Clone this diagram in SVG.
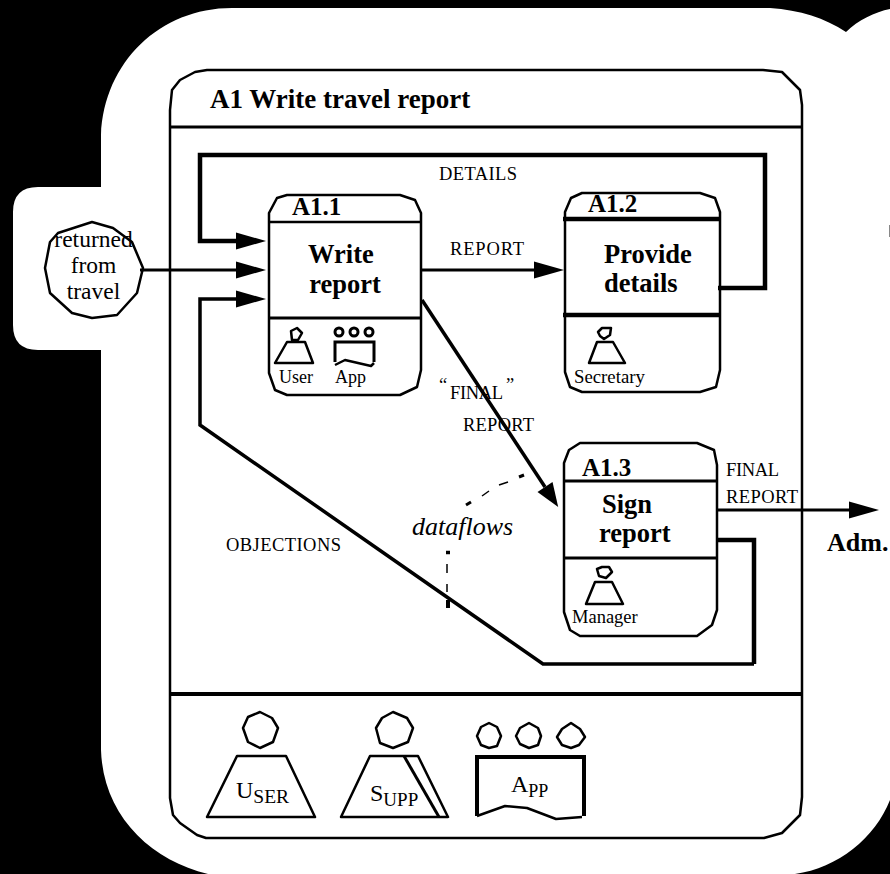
<svg xmlns="http://www.w3.org/2000/svg" width="890" height="874" viewBox="0 0 890 874">
<style>
text{font-family:"Liberation Serif","Times New Roman",serif;fill:#000}
.b{font-weight:bold;font-size:26.5px}
.t{font-size:25px;font-weight:bold}
.l{font-size:18.5px}
.s{font-size:18px}
.r{font-size:23.5px}
.o{fill:none;stroke:#000;stroke-width:2.5;stroke-linejoin:round}
.box{fill:none;stroke:#000;stroke-width:2.5;stroke-linejoin:round}
.c{fill:none;stroke:#000;stroke-linejoin:miter}
.sep{stroke:#000;fill:none}
</style>
<defs>
<marker id="arrow" markerUnits="userSpaceOnUse" viewBox="0 0 30 16" refX="0" refY="8" markerWidth="30" markerHeight="17" orient="auto" preserveAspectRatio="none" overflow="visible"><polygon points="0,0 30,8 0,16" fill="#000"/></marker>
<marker id="arrowShort" markerUnits="userSpaceOnUse" viewBox="0 0 30 16" refX="0" refY="8" markerWidth="24" markerHeight="18" orient="auto" preserveAspectRatio="none" overflow="visible"><polygon points="0,0 30,8 0,16" fill="#000"/></marker>
</defs>
<rect width="890" height="874" fill="#000"/>
<g id="background">
<path fill="#fff" d="M101 135 C104 62 160 8 232 8 L770 8 C800 10 825 18 846 32 C858 20 875 12 890 9 L890 800 C875 838 838 868 795 874 L208 874 C150 860 103 815 101 750 L101 350 L38 350 Q13 350 13 325 L13 212 Q13 187 38 187 L101 187 Z"/>
<path d="M889.5 225V237" stroke="#888" stroke-width="1" fill="none"/>
</g>
<g id="frame">
<polygon class="box" points="170,110 172,90 180,80 195,72 207,70 763,70 782,72 800,90 802,105 802,797 800,815 782,833 764,838 206,838 197,835 180,823 173,815 170,798"/>
<path class="sep" stroke-width="3" d="M170 127H802"/>
<path class="sep" stroke-width="4" d="M170 694H802"/>
<text x="210" y="108" font-size="27" font-weight="bold">A1 Write travel report</text>
</g>
<g id="connectors">
<path class="c" stroke-width="4.5" d="M718 288H765V155H200V241H236" marker-end="url(#arrow)"/>
<path class="c" stroke-width="3" d="M140 270H236" marker-end="url(#arrow)"/>
<path class="c" stroke-width="3" d="M421 270H534" marker-end="url(#arrow)"/>
<path class="c" stroke-width="3.5" d="M422 300L545 487" marker-end="url(#arrowShort)"/>
<path class="c" stroke-width="3" d="M716 510H849" marker-end="url(#arrow)"/>
<path class="c" stroke-width="4.5" d="M718 540H754V664"/>
<path class="c" stroke-width="3.5" d="M754 664H543L200 425V299H236" marker-end="url(#arrow)"/>
<g class="c" stroke-width="1.5">
<path stroke-width="3" d="M524 475L519 477"/><path d="M508 482L499 485"/><path d="M489 491L482 496"/><path stroke-width="3" d="M471 502L466 505"/>
<path stroke-width="3.5" d="M446 552.5H450"/><path d="M447 564V573"/><path d="M447 584V592"/><path stroke-width="4" d="M448 600V608"/>
</g>
<text x="439" y="180" class="l" textLength="78">DETAILS</text>
<text x="450" y="255" class="l" textLength="74">REPORT</text>
<text x="226" y="551" class="l" textLength="115">OBJECTIONS</text>
<text class="l"><tspan x="439" y="391">“</tspan><tspan x="450" y="399" textLength="53">FINAL</tspan><tspan x="506" y="391">”</tspan></text>
<text x="463" y="431" class="l" textLength="71">REPORT</text>
<text x="726" y="476" class="l" textLength="53">FINAL</text>
<text x="726" y="503" class="l" textLength="72">REPORT</text>
<text x="412" y="535" font-size="26" font-style="italic">dataflows</text>
</g>
<g id="external-returned">
<polygon class="o" points="92,222 113,228 132,242 143,268 137,293 117,315 92,318 72,313 50,293 45,268 50,242 58,233"/>
<g class="r" text-anchor="middle"><text x="93.500" y="247">returned</text><text x="93.500" y="273">from</text><text x="93.500" y="299">travel</text></g>
</g>
<g id="external-adm"><text x="827" y="551" font-size="26" font-weight="bold">Adm.</text></g>
<g id="node-a1-1">
<polygon class="box" points="269,213 277,198 287,195 400,195 415,200 421,213 421,370 417,387 400,395 287,395 275,390 269,373"/>
<path class="sep" stroke-width="2.5" d="M268 222H421"/><path class="sep" stroke-width="3" d="M268 318H421"/>
<text x="292" y="215" class="t">A1.1</text>
<text x="308" y="263" class="b">Write</text><text x="345" y="293" class="b" text-anchor="middle">report</text>
<polygon class="o" points="291,331 297,328 302,333 298,340 292,340"/>
<path class="o" d="M287 342H305L313 363H275Z"/>
<g class="o" style="stroke-width:3"><circle cx="339" cy="332" r="4"/><circle cx="354" cy="332" r="4"/><circle cx="369" cy="332" r="4"/></g>
<path class="c" stroke-width="3" d="M335 362V342H374V362"/><path class="o" d="M335 365L345 360L358 363L371 366L374 363"/>
<text x="279" y="383" class="s">User</text><text x="335" y="383" class="s">App</text>
</g>
<g id="node-a1-2">
<polygon class="box" points="565,212 571,198 582,193 700,193 715,198 720,212 720,370 716,387 700,392 582,392 570,387 565,372"/>
<path class="sep" stroke-width="4.500" d="M563 219H720"/><path class="sep" stroke-width="4.500" d="M563 315H720"/>
<text x="588" y="212" class="t">A1.2</text>
<text x="604" y="263" class="b">Provide</text><text x="604" y="292" class="b">details</text>
<polygon class="o" points="598,332 602,328 611,328 610,335 604,339 600,336"/>
<path class="o" d="M597 342H613L625 363H589Z"/>
<text x="574" y="383" font-size="18.800">Secretary</text>
</g>
<g id="node-a1-3">
<polygon class="box" points="564,463 569,450 580,443 697,443 714,450 717,465 717,610 712,625 697,636 580,636 570,630 564,612"/>
<path class="sep" stroke-width="3" d="M563 481H718"/><path class="sep" stroke-width="3" d="M563 558H718"/>
<text x="582" y="476" class="t">A1.3</text>
<text x="602" y="513" class="b">Sign</text><text x="599" y="542" class="b">report</text>
<polygon class="o" points="597,569 602,567 609,567 612,572 606,578 599,576"/>
<path class="o" d="M595 582H612L623 604H586Z"/>
<text x="572" y="623" font-size="18.500">Manager</text>
</g>
<g id="legend-user">
<polygon class="o" points="260,712 272,718 278,728 273,742 260,748 248,742 243,728 248,717"/>
<path class="o" d="M237 756H286L315 817H207Z"/>
<text x="236" y="798" font-size="24">U<tspan font-size="19.500" dy="5">SER</tspan></text>
</g>
<g id="legend-supp">
<polygon class="o" points="393,712 407,718 413,728 408,742 393,748 380,743 376,728 382,718"/>
<path class="o" d="M370 756H418L448 817H341Z"/>
<path class="c" stroke-width="3" d="M404 756L439 817"/>
<text x="370" y="801" font-size="24">S<tspan font-size="19" dy="5">UPP</tspan></text>
</g>
<g id="legend-app">
<polygon class="o" points="489,723 497,727 501,736 497,746 489,748 481,745 477,736 481,727"/>
<polygon class="o" points="529,723 538,728 541,736 538,745 529,748 520,744 516,736 520,728"/>
<polygon class="o" points="571,723 580,729 585,737 579,745 571,748 562,745 557,737 562,729"/>
<path class="c" stroke-width="4" d="M477 816V757H584V816"/>
<path class="o" d="M477 816L505 806L527 808L556 819L582 817"/>
<text x="511" y="792" font-size="24">A<tspan font-size="18" dy="5">PP</tspan></text>
</g>
</svg>
